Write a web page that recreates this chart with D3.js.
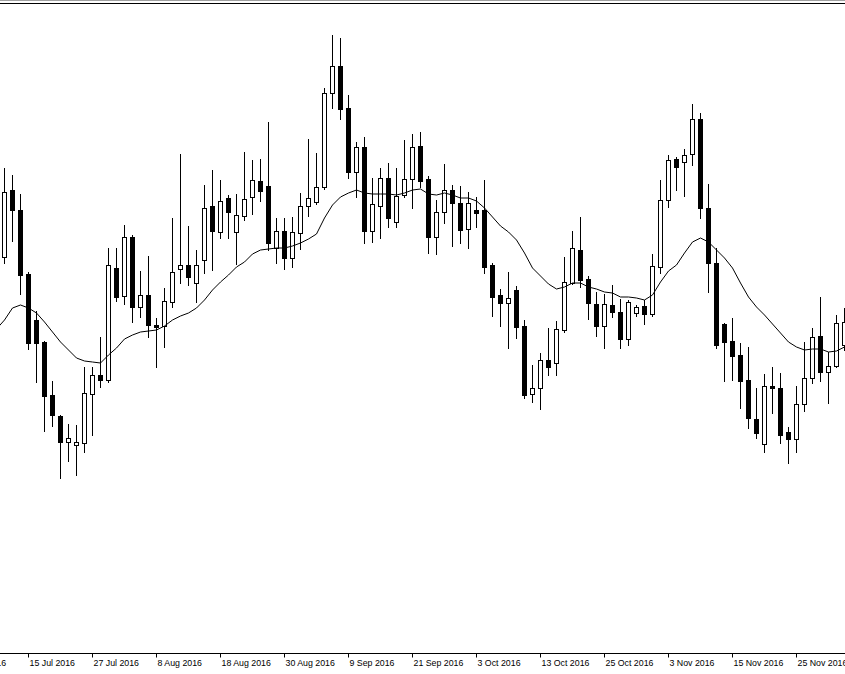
<!DOCTYPE html>
<html>
<head>
<meta charset="utf-8">
<script src="https://cdnjs.cloudflare.com/ajax/libs/d3/7.8.5/d3.min.js"></script>
<style>
  html, body { margin: 0; padding: 0; background: #fff; }
  svg { display: block; }
  .tick text { font-family: 'Liberation Sans', Arial, sans-serif; font-size: 8.8px; fill: #000; }
</style>
</head>
<body>
<svg id="chart"></svg>
<script>
const width = 845;
const height = 674;

// bar index of each date label (bar 0 = 12 Jul 2016)
const tickBars = [-5, 3, 11, 19, 27, 35, 43, 51, 59, 67, 75, 83, 91, 99];
const tickLabels = ['5 Jul 2016', '15 Jul 2016', '27 Jul 2016', '8 Aug 2016', '18 Aug 2016',
  '30 Aug 2016', '9 Sep 2016', '21 Sep 2016', '3 Oct 2016', '13 Oct 2016', '25 Oct 2016',
  '3 Nov 2016', '15 Nov 2016', '25 Nov 2016'];

// daily OHLC
const open = [
  1.1443, 1.1510, 1.1490, 1.1426, 1.1380, 1.1358, 1.1305, 1.1284, 1.1258, 1.1255,
  1.1257, 1.1306, 1.1325, 1.1320, 1.1432, 1.1404, 1.1463, 1.1393, 1.1405, 1.1375,
  1.1374, 1.1398, 1.1431, 1.1435, 1.1417, 1.1440, 1.1494, 1.1468, 1.1502, 1.1468,
  1.1484, 1.1503, 1.1519, 1.1514, 1.1452, 1.1469, 1.1442, 1.1467, 1.1494, 1.1498,
  1.1513, 1.1607, 1.1634, 1.1592, 1.1528, 1.1553, 1.1469, 1.1494, 1.1522, 1.1478,
  1.1505, 1.1521, 1.1554, 1.1521, 1.1463, 1.1488, 1.1510, 1.1497, 1.1471, 1.1490,
  1.1490, 1.1435, 1.1405, 1.1397, 1.1410, 1.1374, 1.1306, 1.1312, 1.1340, 1.1337,
  1.1370, 1.1417, 1.1450, 1.1421, 1.1396, 1.1374, 1.1395, 1.1388, 1.1361, 1.1387,
  1.1394, 1.1386, 1.1433, 1.1500, 1.1541, 1.1538, 1.1546, 1.1581, 1.1492, 1.1437,
  1.1376, 1.1359, 1.1345, 1.1320, 1.1281, 1.1256, 1.1314, 1.1312, 1.1268, 1.1261,
  1.1296, 1.1322, 1.1364, 1.1328, 1.1334, 1.1355
];
const high = [
  1.1532, 1.1525, 1.1506, 1.1428, 1.1389, 1.1359, 1.1319, 1.1285, 1.1276, 1.1275,
  1.1333, 1.1333, 1.1363, 1.1452, 1.1452, 1.1475, 1.1465, 1.1429, 1.1444, 1.1382,
  1.1412, 1.1482, 1.1546, 1.1474, 1.1450, 1.1515, 1.1530, 1.1520, 1.1505, 1.1506,
  1.1548, 1.1540, 1.1541, 1.1578, 1.1482, 1.1482, 1.1483, 1.1507, 1.1561, 1.1547,
  1.1612, 1.1665, 1.1662, 1.1605, 1.1558, 1.1563, 1.1522, 1.1532, 1.1537, 1.1532,
  1.1560, 1.1566, 1.1568, 1.1524, 1.1500, 1.1536, 1.1515, 1.1514, 1.1508, 1.1503,
  1.1520, 1.1437, 1.1411, 1.1428, 1.1414, 1.1380, 1.1335, 1.1347, 1.1372, 1.1379,
  1.1443, 1.1469, 1.1483, 1.1424, 1.1408, 1.1406, 1.1415, 1.1401, 1.1400, 1.1395,
  1.1400, 1.1446, 1.1520, 1.1545, 1.1543, 1.1551, 1.1596, 1.1587, 1.1516, 1.1452,
  1.1377, 1.1382, 1.1357, 1.1353, 1.1312, 1.1326, 1.1333, 1.1327, 1.1273, 1.1314,
  1.1358, 1.1372, 1.1403, 1.1348, 1.1385, 1.1392
];
const low = [
  1.1437, 1.1459, 1.1406, 1.1351, 1.1318, 1.1269, 1.1274, 1.1222, 1.1239, 1.1225,
  1.1248, 1.1265, 1.1313, 1.1318, 1.1399, 1.1396, 1.1378, 1.1383, 1.1363, 1.1333,
  1.1353, 1.1393, 1.1417, 1.1415, 1.1398, 1.1427, 1.1430, 1.1462, 1.1462, 1.1436,
  1.1480, 1.1486, 1.1499, 1.1450, 1.1437, 1.1431, 1.1433, 1.1451, 1.1484, 1.1496,
  1.1511, 1.1592, 1.1581, 1.1522, 1.1503, 1.1457, 1.1458, 1.1462, 1.1473, 1.1473,
  1.1503, 1.1492, 1.1513, 1.1447, 1.1446, 1.1477, 1.1454, 1.1457, 1.1452, 1.1473,
  1.1427, 1.1384, 1.1374, 1.1352, 1.1362, 1.1302, 1.1298, 1.1291, 1.1325, 1.1325,
  1.1368, 1.1416, 1.1413, 1.1381, 1.1364, 1.1352, 1.1383, 1.1352, 1.1355, 1.1384,
  1.1376, 1.1384, 1.1427, 1.1493, 1.1510, 1.1504, 1.1535, 1.1482, 1.1408, 1.1352,
  1.1319, 1.1320, 1.1292, 1.1272, 1.1262, 1.1248, 1.1287, 1.1257, 1.1237, 1.1248,
  1.1289, 1.1317, 1.1319, 1.1297, 1.1333, 1.1350
];
const close = [
  1.1508, 1.1490, 1.1425, 1.1357, 1.1357, 1.1304, 1.1285, 1.1258, 1.1262, 1.1258,
  1.1307, 1.1325, 1.1320, 1.1435, 1.1403, 1.1463, 1.1393, 1.1405, 1.1375, 1.1373,
  1.1399, 1.1428, 1.1435, 1.1423, 1.1435, 1.1492, 1.1469, 1.1499, 1.1488, 1.1485,
  1.1501, 1.1520, 1.1509, 1.1457, 1.1469, 1.1442, 1.1468, 1.1494, 1.1502, 1.1513,
  1.1607, 1.1634, 1.1591, 1.1528, 1.1553, 1.1469, 1.1496, 1.1522, 1.1482, 1.1504,
  1.1521, 1.1553, 1.1519, 1.1463, 1.1488, 1.1510, 1.1497, 1.1470, 1.1497, 1.1487,
  1.1433, 1.1403, 1.1397, 1.1402, 1.1373, 1.1305, 1.1312, 1.1340, 1.1333, 1.1371,
  1.1418, 1.1452, 1.1420, 1.1397, 1.1374, 1.1396, 1.1388, 1.1361, 1.1398, 1.1393,
  1.1386, 1.1434, 1.1500, 1.1540, 1.1533, 1.1545, 1.1581, 1.1492, 1.1437, 1.1355,
  1.1358, 1.1344, 1.1319, 1.1282, 1.1267, 1.1314, 1.1312, 1.1265, 1.1261, 1.1296,
  1.1322, 1.1363, 1.1328, 1.1334, 1.1377, 1.1378
];

// moving average line, first value belongs to bar -1
const maStart = -1;
const ma = [
  1.1371,
  1.1380, 1.1392, 1.1395, 1.1392, 1.1387, 1.1378, 1.1368, 1.1358, 1.1350, 1.1342,
  1.1339, 1.1338, 1.1337, 1.1345, 1.1352, 1.1361, 1.1365, 1.1368, 1.1369, 1.1370,
  1.1374, 1.1380, 1.1384, 1.1387, 1.1392, 1.1400, 1.1410, 1.1418, 1.1425, 1.1433,
  1.1438, 1.1446, 1.1450, 1.1451, 1.1452, 1.1452, 1.1454, 1.1457, 1.1461, 1.1466,
  1.1482, 1.1495, 1.1503, 1.1507, 1.1510, 1.1507, 1.1506, 1.1506, 1.1506, 1.1505,
  1.1507, 1.1510, 1.1511, 1.1506, 1.1505, 1.1507, 1.1505, 1.1502, 1.1502, 1.1499,
  1.1492, 1.1483, 1.1474, 1.1468, 1.1460, 1.1447, 1.1432, 1.1424, 1.1416, 1.1411,
  1.1413, 1.1417, 1.1417, 1.1413, 1.1411, 1.1408, 1.1407, 1.1403, 1.1403, 1.1402,
  1.1400, 1.1405, 1.1418, 1.1429, 1.1435, 1.1447, 1.1458, 1.1462, 1.1458, 1.1450,
  1.1442, 1.1432, 1.1417, 1.1403, 1.1393, 1.1385, 1.1376, 1.1367, 1.1358, 1.1353,
  1.1350, 1.1351, 1.1351, 1.1348, 1.1349, 1.1353
];

const candles = open.map((o, i) => ({ i, o, h: high[i], l: low[i], c: close[i] }));

const svg = d3.select('#chart')
  .attr('width', width)
  .attr('height', height);

const axisY = 653;
const x = d3.scaleLinear().domain([-0.5625, 105.0625]).range([0, width]);
const y = d3.scaleLinear().domain([1.1047, 1.1700]).range([axisY, 0]);

// frame lines at the top
svg.append('line')
  .attr('x1', 0).attr('x2', width)
  .attr('y1', 0.5).attr('y2', 0.5)
  .attr('stroke', '#a0a0a0');
svg.append('line')
  .attr('x1', 0).attr('x2', width)
  .attr('y1', 3.5).attr('y2', 3.5)
  .attr('stroke', '#000');

const plot = svg.append('g');

// wicks
plot.selectAll('line.wick')
  .data(candles)
  .join('line')
  .attr('class', 'wick')
  .attr('x1', d => x(d.i)).attr('x2', d => x(d.i))
  .attr('y1', d => Math.round(y(d.h)))
  .attr('y2', d => Math.round(y(d.l)) + 1)
  .attr('stroke', '#000');

// bodies
plot.selectAll('rect.body')
  .data(candles)
  .join('rect')
  .attr('class', 'body')
  .attr('x', d => x(d.i) - 2)
  .attr('y', d => Math.round(y(Math.max(d.o, d.c))) + 0.5)
  .attr('width', 4)
  .attr('height', d => Math.round(y(Math.min(d.o, d.c))) - Math.round(y(Math.max(d.o, d.c))))
  .attr('fill', d => d.c >= d.o ? '#fff' : '#000')
  .attr('stroke', '#000');

// moving average
const line = d3.line()
  .x((d, k) => x(maStart + k))
  .y(d => y(d));

plot.append('path')
  .datum(ma)
  .attr('d', line)
  .attr('fill', 'none')
  .attr('stroke', '#000')
  .attr('stroke-width', 1);

// time axis
const axis = d3.axisBottom(x)
  .tickValues(tickBars)
  .tickFormat((d, k) => tickLabels[k])
  .tickSize(4)
  .tickSizeOuter(0)
  .offset(0);

svg.append('g')
  .attr('transform', `translate(0,${axisY + 0.5})`)
  .call(axis)
  .call(g => g.selectAll('.tick text')
    .attr('text-anchor', 'start')
    .attr('x', 1)
    .attr('y', 6));
</script>
</body>
</html>
